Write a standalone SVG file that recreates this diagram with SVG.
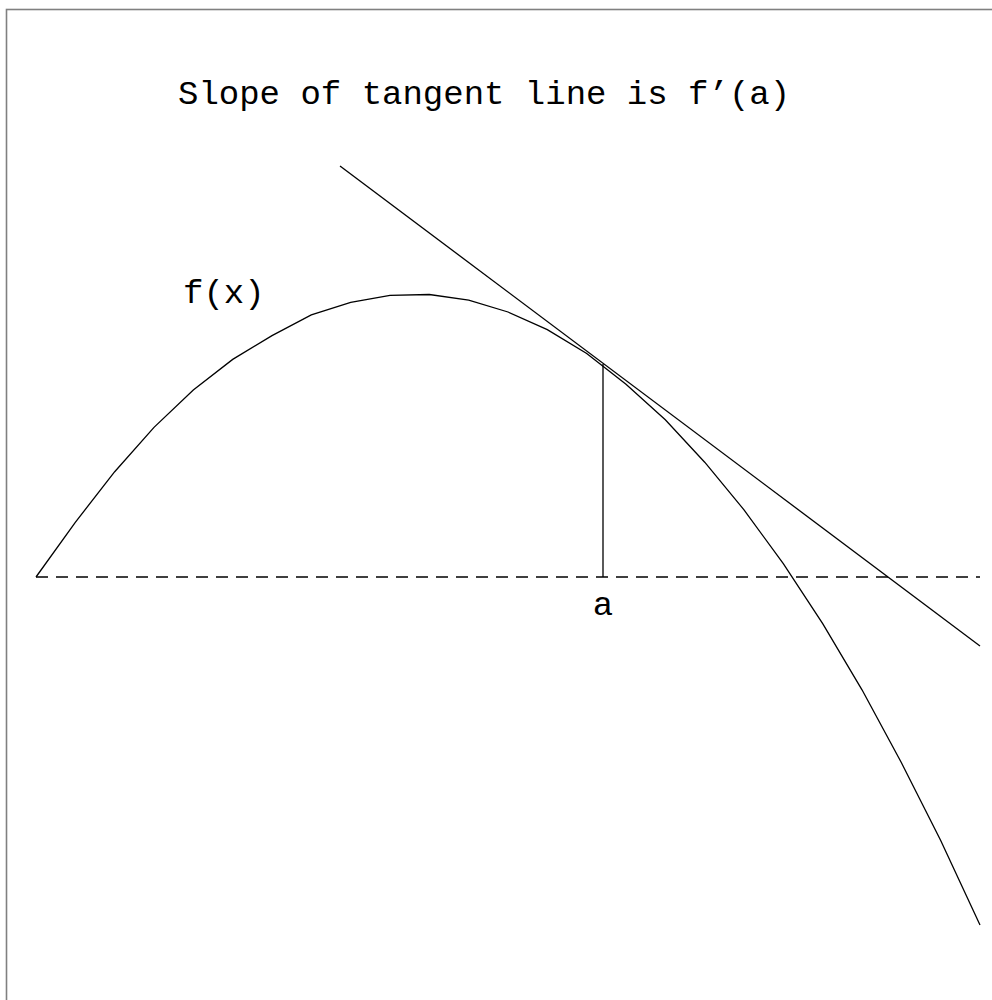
<svg xmlns="http://www.w3.org/2000/svg" width="992" height="1000" viewBox="0 0 992 1000">
<style>
.ln{fill:none;stroke:#000;stroke-width:1.3}
.tx{font-family:"Liberation Mono","Courier New",monospace;font-size:34px;fill:#000}
</style>
<rect x="0" y="0" width="992" height="1000" fill="#fff"/>
<rect x="6.5" y="9.5" width="1000" height="1000" fill="none" stroke="#808080" stroke-width="1.6"/>
<g id="title"><text class="tx" x="178" y="104">Slope of tangent line is f’(a)</text></g>
<g id="label-fx"><text class="tx" x="183" y="303">f(x)</text></g>
<g id="label-a"><text class="tx" x="603" y="615" text-anchor="middle">a</text></g>
<g id="connectors">
<line id="axis" class="ln" x1="36" y1="577" x2="980" y2="577" stroke-dasharray="12 8"/>
<polyline id="curve" class="ln" points="36,577 75.3,522.3 114.7,471.7 154,427.4 193.3,390.1 232.7,359.4 272,335.6 311.3,314.9 350.7,302.3 390,295.3 429.3,294.5 468.7,300.2 508,312.0 547.3,329.6 586.7,353.5 626,384.3 665.3,419.8 704.7,462.2 744,509.8 783.3,563.7 822.7,623.7 862,689.8 901.3,762.5 940.7,840.5 980,925"/>
<line id="tangent" class="ln" x1="340" y1="166" x2="980" y2="646"/>
<line id="vertical" class="ln" x1="603" y1="364" x2="603" y2="577"/>
</g>
</svg>
